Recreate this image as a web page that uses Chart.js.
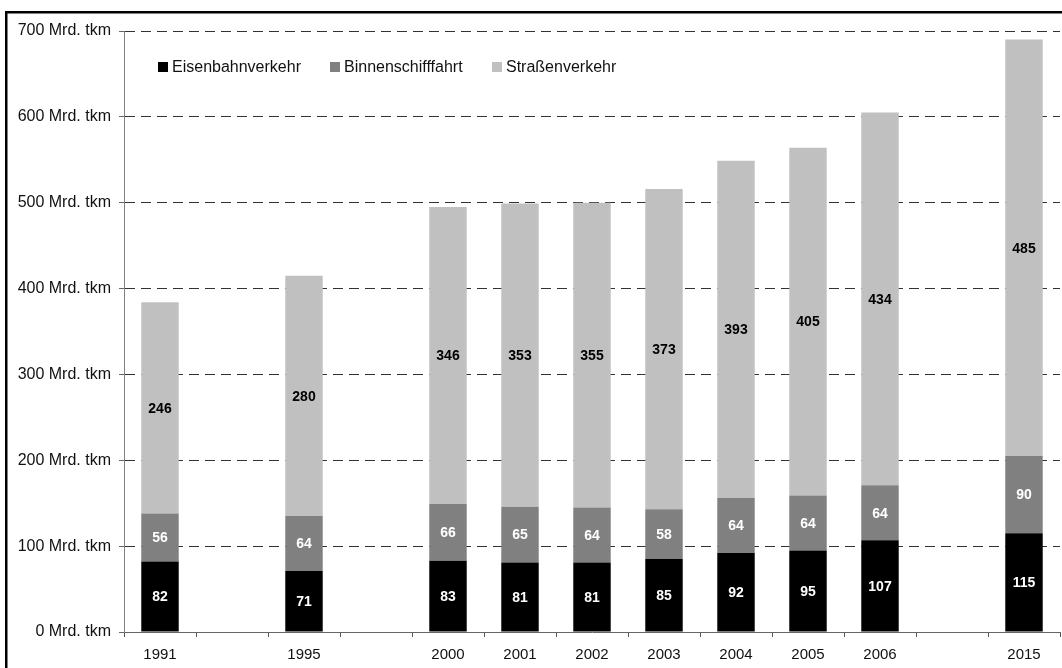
<!DOCTYPE html>
<html>
<head>
<meta charset="utf-8">
<script src="https://cdn.jsdelivr.net/npm/chart.js@4/dist/chart.umd.min.js"></script>
<style>
  html, body { margin: 0; padding: 0; background: #fff; }
  canvas { display: block; }
</style>
</head>
<body>
<canvas id="chart" width="1062" height="668"></canvas>
<script>
// Güterverkehrsleistung in Deutschland, Mrd. tkm (leere Kategorien = Zeitlücken)
const years = ['1991', '', '1995', '', '2000', '2001', '2002', '2003', '2004', '2005', '2006', '', '2015'];
const eisenbahn = [82, null, 71, null, 83, 81, 81, 85, 92, 95, 107, null, 115];
const binnenschiff = [56, null, 64, null, 66, 65, 64, 58, 64, 64, 64, null, 90];
const strasse = [246, null, 280, null, 346, 353, 355, 373, 393, 405, 434, null, 485];
const seriesNames = ['Eisenbahnverkehr', 'Binnenschifffahrt', 'Straßenverkehr'];
const seriesColors = ['#000000', '#808080', '#c0c0c0'];
const labelColors = ['#ffffff', '#ffffff', '#000000'];
const yTicks = [0, 100, 200, 300, 400, 500, 600, 700];

const FONT = 'Arial, "Liberation Sans", sans-serif';

// Wertbeschriftungen mittig in jedem Segment
const valueLabels = {
  id: 'valueLabels',
  afterDatasetsDraw(chart) {
    const ctx = chart.ctx;
    ctx.save();
    ctx.font = 'bold 14px ' + FONT;
    ctx.textAlign = 'center';
    ctx.textBaseline = 'middle';
    chart.data.datasets.forEach((ds, di) => {
      const meta = chart.getDatasetMeta(di);
      meta.data.forEach((bar, i) => {
        const v = ds.data[i];
        if (v === null || v === undefined) return;
        const c = bar.getCenterPoint();
        ctx.fillStyle = labelColors[di];
        ctx.fillText(String(v), c.x, c.y + 1);
      });
    });
    ctx.restore();
  }
};

// Legende oben links im Diagrammbereich
const insetLegend = {
  id: 'insetLegend',
  afterDraw(chart) {
    const ctx = chart.ctx;
    const xs = [158, 330, 492];
    const y = 67;
    ctx.save();
    ctx.font = '16px ' + FONT;
    ctx.textBaseline = 'middle';
    ctx.textAlign = 'left';
    chart.data.datasets.forEach((ds, i) => {
      ctx.fillStyle = ds.backgroundColor;
      ctx.fillRect(xs[i], y - 5, 10, 10);
      ctx.fillStyle = '#111';
      ctx.fillText(ds.label, xs[i] + 14, y + 1);
    });
    ctx.restore();
  }
};

// Rahmen um die Grafik
const frame = {
  id: 'frame',
  afterDraw(chart) {
    const ctx = chart.ctx;
    ctx.save();
    ctx.fillStyle = '#000';
    ctx.fillRect(5, 11, chart.width - 5, 2.5);
    ctx.fillRect(5, 11, 2.5, chart.height - 11);
    ctx.restore();
  }
};

const datasets = [eisenbahn, binnenschiff, strasse].map((d, i) => ({
  label: seriesNames[i],
  data: d,
  backgroundColor: seriesColors[i],
  borderWidth: 0,
  barPercentage: 0.52,
  categoryPercentage: 1.0
}));

new Chart(document.getElementById('chart'), {
  type: 'bar',
  data: { labels: years, datasets },
  options: {
    responsive: false,
    animation: false,
    layout: { padding: { top: 31, right: 2, bottom: 0, left: 0 } },
    plugins: {
      legend: { display: false },
      tooltip: { enabled: false }
    },
    scales: {
      x: {
        stacked: true,
        afterFit(s) { s.height = 36; },
        grid: {
          offset: true,
          drawOnChartArea: false,
          drawTicks: true,
          tickLength: 5,
          tickColor: '#555',
          tickWidth: 1
        },
        border: { display: true, color: '#666', width: 1 },
        ticks: {
          color: '#111',
          font: { family: FONT, size: 15 },
          padding: 9,
          maxRotation: 0,
          autoSkip: false
        }
      },
      y: {
        stacked: true,
        min: 0,
        max: 700,
        afterFit(s) { s.width = 124; },
        afterBuildTicks(s) { s.ticks = yTicks.map(v => ({ value: v })); },
        grid: {
          drawTicks: true,
          tickLength: 5,
          tickColor: '#666',
          tickWidth: 1,
          color: ctx => (ctx.tick && ctx.tick.value === 0) ? 'rgba(0,0,0,0)' : '#333',
          lineWidth: 1
        },
        border: { display: true, color: '#808080', width: 1, dash: [10, 6] },
        ticks: {
          color: '#111',
          font: { family: FONT, size: 16 },
          padding: 8,
          callback: v => v + ' Mrd. tkm'
        }
      }
    }
  },
  plugins: [valueLabels, insetLegend, frame]
});
</script>
</body>
</html>
